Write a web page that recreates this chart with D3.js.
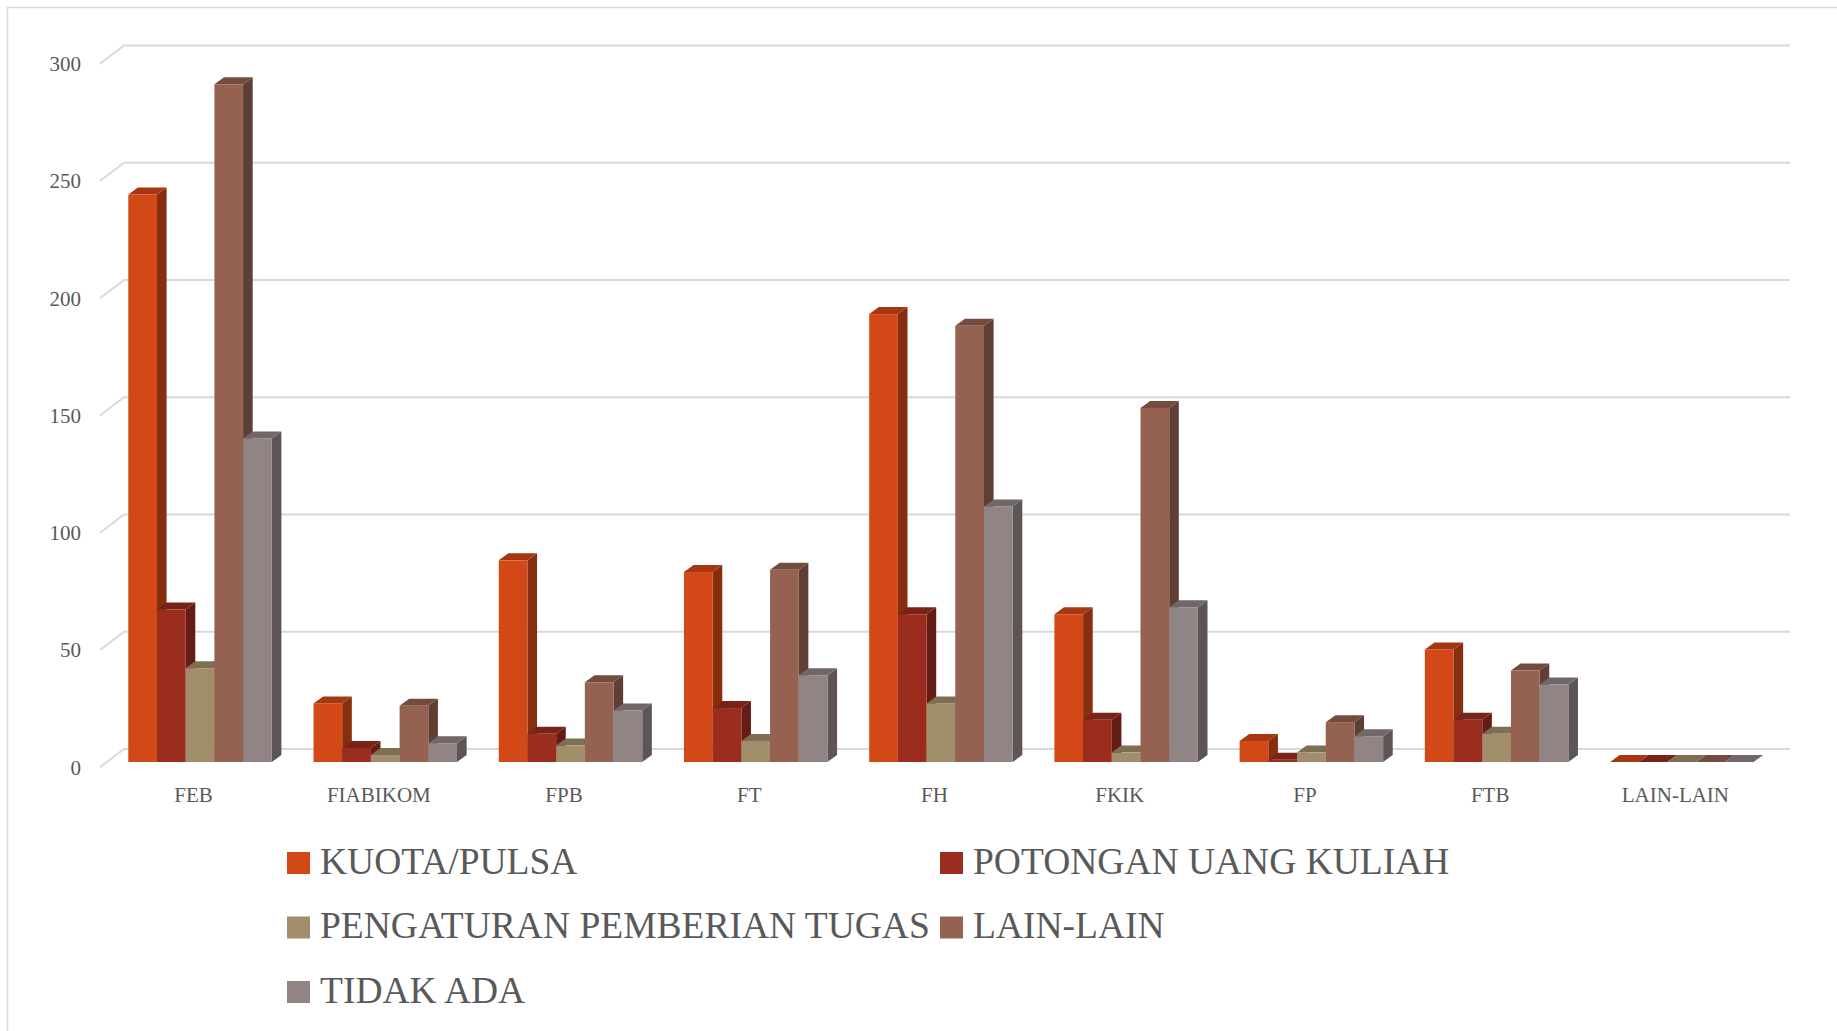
<!DOCTYPE html>
<html>
<head>
<meta charset="utf-8">
<script src="https://cdn.jsdelivr.net/npm/d3@7.9.0/dist/d3.min.js"></script>
<style>
  html, body { margin: 0; padding: 0; background: #fff; }
  svg { display: block; }
  text { font-family: 'Liberation Serif', 'DejaVu Serif', serif; fill: #595959; }
</style>
</head>
<body>
<svg id="chart" width="1837" height="1031"></svg>
<script>
const categories = ['FEB', 'FIABIKOM', 'FPB', 'FT', 'FH', 'FKIK', 'FP', 'FTB', 'LAIN-LAIN'];
const series = ['KUOTA/PULSA', 'POTONGAN UANG KULIAH', 'PENGATURAN PEMBERIAN TUGAS', 'LAIN-LAIN', 'TIDAK ADA'];
const colors = ['#D34817', '#9B2D1F', '#A28E6A', '#956251', '#918485'];

const kuota      = [242, 25, 86, 81, 191, 63, 9, 48, 0];
const potongan   = [65, 6, 12, 23, 63, 18, 1, 18, 0];
const pengaturan = [40, 3, 7, 9, 25, 4, 4, 12, 0];
const lainLain   = [289, 24, 34, 82, 186, 151, 17, 39, 0];
const tidakAda   = [138, 8, 22, 37, 109, 66, 11, 33, 0];
const yTicks = [0, 50, 100, 150, 200, 250, 300];

const values = [kuota, potongan, pengaturan, lainLain, tidakAda];

const svg = d3.select('#chart');

// chart frame (only the top and left edges are inside the picture)
svg.append('rect')
    .attr('x', 7.5).attr('y', 7.5)
    .attr('width', 1900).attr('height', 1100)
    .attr('fill', 'none')
    .attr('stroke', '#d9d9d9')
    .attr('stroke-width', 1.5);

// front plane scale, the back wall sits a bit higher
let y = d3.scaleLinear().domain([0, 300]).range([762, 762 - 300 * 2.345]);
const backShift = 13;
const wallX0 = 100, wallX1 = 124, wallDrop = 18.3;

let x = d3.scaleBand().domain(categories).range([100, 1767]);
let xInner = d3.scaleBand().domain(series).range([28.3, 171.8]);

const depthX = 9.6, depthY = 7;

// gridlines on the back wall + side wall
let grid = svg.append('g');
yTicks.forEach(t => {
  let yb = y(t) - backShift;
  grid.append('path')
      .attr('d', `M${wallX0},${yb + wallDrop}L${wallX1},${yb}L1790,${yb}`)
      .attr('fill', 'none')
      .attr('stroke', '#d9d9d9')
      .attr('stroke-width', 2);
});

// y tick labels
svg.append('g').selectAll('text')
  .data(yTicks)
  .join('text')
    .attr('x', 81)
    .attr('y', d => y(d) - backShift + wallDrop)
    .attr('dy', '0.35em')
    .attr('text-anchor', 'end')
    .attr('font-size', 21)
    .text(d => d);

// 3D bars
let bars = svg.append('g');
categories.forEach((cat, ci) => {
  series.forEach((s, si) => {
    let v = values[si][ci];
    let x0 = x(cat) + xInner(s);
    let w = xInner.bandwidth();
    let yt = y(v), yb = y(0);
    let base = d3.color(colors[si]);
    let side = d3.rgb(base.r * 0.64, base.g * 0.64, base.b * 0.64);
    let top = d3.rgb(base.r * 0.78, base.g * 0.78, base.b * 0.78);

    bars.append('path')
        .attr('d', `M${x0 + w},${yt}L${x0 + w + depthX},${yt - depthY}L${x0 + w + depthX},${yb - depthY}L${x0 + w},${yb}Z`)
        .attr('fill', side);
    bars.append('path')
        .attr('d', `M${x0},${yt}L${x0 + depthX},${yt - depthY}L${x0 + w + depthX},${yt - depthY}L${x0 + w},${yt}Z`)
        .attr('fill', top);
    if (v > 0) {
      bars.append('rect')
          .attr('x', x0).attr('y', yt)
          .attr('width', w).attr('height', yb - yt)
          .attr('fill', colors[si]);
    }
  });
});

// category labels
svg.append('g').selectAll('text')
  .data(categories)
  .join('text')
    .attr('x', d => x(d) + x.bandwidth() / 2 + 1)
    .attr('y', 801.5)
    .attr('text-anchor', 'middle')
    .attr('font-size', 21)
    .text(d => d);

// legend, two columns
const legendCols = [287, 940];
const legendRow0 = 863, legendRowGap = 64.5;
let legend = svg.append('g');
series.forEach((s, i) => {
  let cx = legendCols[i % 2];
  let cy = legendRow0 + Math.floor(i / 2) * legendRowGap;
  legend.append('rect')
      .attr('x', cx).attr('y', cy - 11)
      .attr('width', 23).attr('height', 22)
      .attr('fill', colors[i]);
  legend.append('text')
      .attr('x', cx + 33)
      .attr('y', cy + 10.5)
      .attr('font-size', 37.5)
      .text(s);
});
</script>
</body>
</html>
